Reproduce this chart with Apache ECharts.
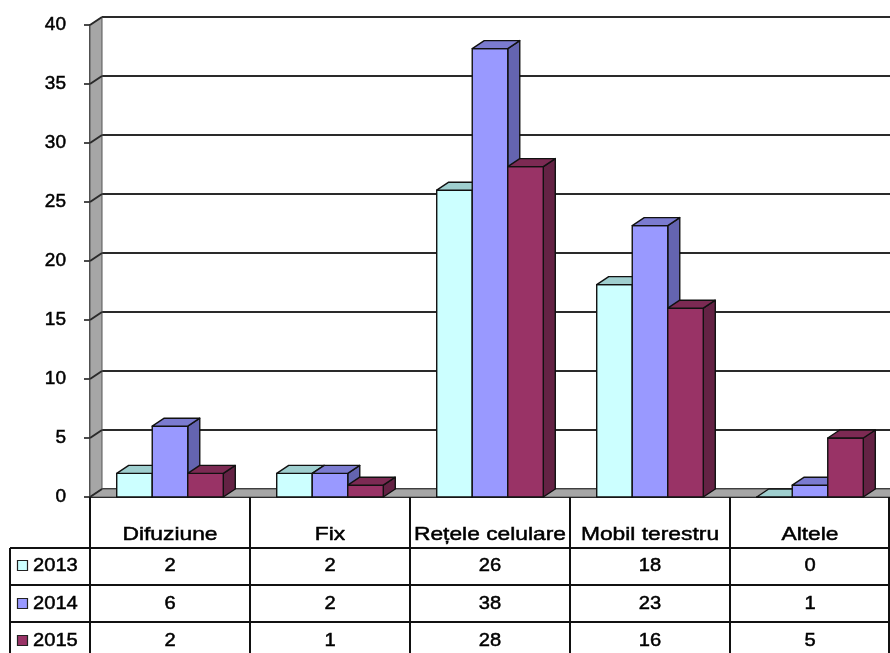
<!DOCTYPE html>
<html>
<head>
<meta charset="utf-8">
<script src="https://cdn.jsdelivr.net/npm/echarts@6/dist/echarts.min.js"></script>
<style>
  html, body { margin: 0; padding: 0; background: #fff; }
  #chart { width: 890px; height: 653px; }
</style>
</head>
<body>
<div id="chart"></div>
<script>
// Categories and yearly values
const categories = ['Difuziune', 'Fix', 'Rețele celulare', 'Mobil terestru', 'Altele'];
const years = ['2013', '2014', '2015'];
const values2013 = [2, 2, 26, 18, 0];
const values2014 = [6, 2, 38, 23, 1];
const values2015 = [2, 1, 28, 16, 5];
const yTicks = [0, 5, 10, 15, 20, 25, 30, 35, 40];

const seriesValues = [values2013, values2014, values2015];
// front / top / side shades for each year
const palette = [
  { front: '#CCFFFF', top: '#9FCFCF', side: '#88B5B5' },
  { front: '#9999FF', top: '#7B7BD0', side: '#6464B0' },
  { front: '#993366', top: '#7C2A53', side: '#642244' }
];

// depth offset of the pseudo-3D scene
const DX = 12, DY = -8;
const BAR_FRACTION = 0.222;
const FONT = '"Liberation Sans", Arial, sans-serif';
const TEXT_SIZE = 19;

const chart = echarts.init(document.getElementById('chart'), null, { renderer: 'canvas' });

function barRenderer(slot, colors) {
  return function (params, api) {
    const cat = api.value(0);
    const v = api.value(1);
    const topPt = api.coord([cat, v]);
    const basePt = api.coord([cat, 0]);
    const band = api.size([1, 0])[0];
    const w = band * BAR_FRACTION;
    const left = topPt[0] - 1.5 * w + slot * w;
    const right = left + w;
    const yt = topPt[1], yb = basePt[1];
    const stroke = { stroke: '#111', lineWidth: 1.4, lineJoin: 'round' };
    return {
      type: 'group',
      children: [
        {
          type: 'polygon',
          shape: { points: [[right, yt], [right + DX, yt + DY], [right + DX, yb + DY], [right, yb]] },
          style: Object.assign({ fill: colors.side }, stroke)
        },
        {
          type: 'rect',
          shape: { x: left, y: yt, width: w, height: yb - yt },
          style: Object.assign({ fill: colors.front }, stroke)
        },
        {
          type: 'polygon',
          shape: { points: [[left, yt], [left + DX, yt + DY], [right + DX, yt + DY], [right, yt]] },
          style: Object.assign({ fill: colors.top }, stroke)
        }
      ]
    };
  };
}

// left wall, floor and the gridline bends on the left wall
function frameRenderer(params, api) {
  const cs = params.coordSys;
  const v = api.value(0);
  const p = api.coord([0, v]);
  const x0 = cs.x;
  const y = p[1];
  const children = [];
  if (params.dataIndex === 0) {
    const yBase = cs.y + cs.height;
    const yTop = cs.y;
    const x1 = cs.x + cs.width;
    children.push({
      type: 'polygon',
      shape: { points: [[x0, yBase], [x0, yTop], [x0 + DX, yTop + DY], [x0 + DX, yBase + DY]] },
      style: { fill: '#A6A6A6', stroke: '#555', lineWidth: 1 }
    });
    children.push({
      type: 'polygon',
      shape: { points: [[x0, yBase], [x0 + DX, yBase + DY], [x1 + DX, yBase + DY], [x1, yBase]] },
      style: { fill: '#A6A6A6', stroke: '#555', lineWidth: 1 }
    });
  }
  children.push({
    type: 'line',
    shape: { x1: x0, y1: y, x2: x0 + DX, y2: y + DY },
    style: { stroke: '#2a2a2a', lineWidth: 2 }
  });
  return { type: 'group', children: children };
}

const option = {
  animation: false,
  backgroundColor: '#ffffff',
  grid: [
    { left: 90, right: 0, top: 25, bottom: 156 },
    { left: 90 + DX, right: -DX, top: 25 + DY, bottom: 156 - DY }
  ],
  xAxis: [
    {
      type: 'category', gridIndex: 0, data: categories,
      axisLine: { show: true, lineStyle: { color: '#000', width: 2 } },
      axisTick: { show: false },
      axisLabel: { show: false },
      splitLine: { show: false }
    },
    {
      type: 'category', gridIndex: 1, data: categories, show: false
    }
  ],
  yAxis: [
    {
      type: 'value', gridIndex: 0, min: 0, max: 40, interval: 5,
      axisLine: { show: true, lineStyle: { color: '#111', width: 1.5 } },
      axisTick: { show: true, length: 6, lineStyle: { color: '#111', width: 1.5 } },
      axisLabel: {
        fontSize: TEXT_SIZE, color: '#000', fontFamily: FONT, margin: 24,
        textBorderColor: '#000', textBorderWidth: 0.5
      },
      splitLine: { show: false }
    },
    {
      type: 'value', gridIndex: 1, min: 0, max: 40, interval: 5,
      axisLine: { show: false }, axisTick: { show: false }, axisLabel: { show: false },
      splitLine: { show: true, lineStyle: { color: '#2a2a2a', width: 2 } }
    }
  ],
  series: [
    {
      type: 'custom', name: 'frame', xAxisIndex: 0, yAxisIndex: 0, z: 1,
      silent: true, clip: false,
      renderItem: frameRenderer,
      data: yTicks.map(function (t) { return [t]; }),
      encode: { y: 0 }
    }
  ].concat(years.map(function (yr, i) {
    return {
      type: 'custom', name: yr, xAxisIndex: 0, yAxisIndex: 0, z: 3,
      clip: false,
      renderItem: barRenderer(i, palette[i]),
      data: seriesValues[i].map(function (v, k) { return [k, v]; }),
      encode: { x: 0, y: 1 }
    };
  }))
};

chart.setOption(option);

// data table under the plot
(function buildTable() {
  const p0 = chart.convertToPixel({ xAxisIndex: 0, yAxisIndex: 0 }, [0, 0]);
  const p1 = chart.convertToPixel({ xAxisIndex: 0, yAxisIndex: 0 }, [1, 0]);
  const band = p1[0] - p0[0];
  const yBase = p0[1];
  const colLeft = p0[0] - band / 2;
  const tableLeft = 10;
  const tableRight = 889;
  const rowLines = [548, 585, 622];
  const headerY = 535;
  const rowY = [566, 604, 641];
  const bottom = 660;
  const lineStyle = { stroke: '#111', lineWidth: 2 };
  const els = [];
  const textBase = {
    fontSize: TEXT_SIZE, fontFamily: FONT, fill: '#000',
    stroke: '#000', lineWidth: 0.5,
    textVerticalAlign: 'middle', verticalAlign: 'middle'
  };
  function txt(s, align) {
    return Object.assign({ text: s, textAlign: align, align: align }, textBase);
  }

  for (let i = 0; i <= categories.length; i++) {
    const x = Math.min(colLeft + i * band, tableRight);
    els.push({ type: 'line', shape: { x1: x, y1: yBase, x2: x, y2: bottom }, style: lineStyle, z: 10 });
  }
  els.push({ type: 'line', shape: { x1: tableLeft, y1: rowLines[0], x2: tableLeft, y2: bottom }, style: lineStyle, z: 10 });
  rowLines.forEach(function (y) {
    els.push({ type: 'line', shape: { x1: tableLeft, y1: y, x2: tableRight, y2: y }, style: lineStyle, z: 10 });
  });

  categories.forEach(function (c, i) {
    els.push({
      type: 'text', x: colLeft + (i + 0.5) * band, y: headerY, scaleX: 1.2, z: 11,
      style: txt(c, 'center')
    });
  });

  years.forEach(function (yr, r) {
    els.push({
      type: 'rect', shape: { x: 17.5, y: rowY[r] - 5.5, width: 10, height: 10 }, z: 11,
      style: { fill: palette[r].front, stroke: '#222', lineWidth: 1.2 }
    });
    els.push({
      type: 'text', x: 33, y: rowY[r], scaleX: 1.06, z: 11,
      style: txt(yr, 'left')
    });
    seriesValues[r].forEach(function (v, i) {
      els.push({
        type: 'text', x: colLeft + (i + 0.5) * band, y: rowY[r], scaleX: 1.06, z: 11,
        style: txt(String(v), 'center')
      });
    });
  });

  chart.setOption({ graphic: els });
})();
</script>
</body>
</html>
